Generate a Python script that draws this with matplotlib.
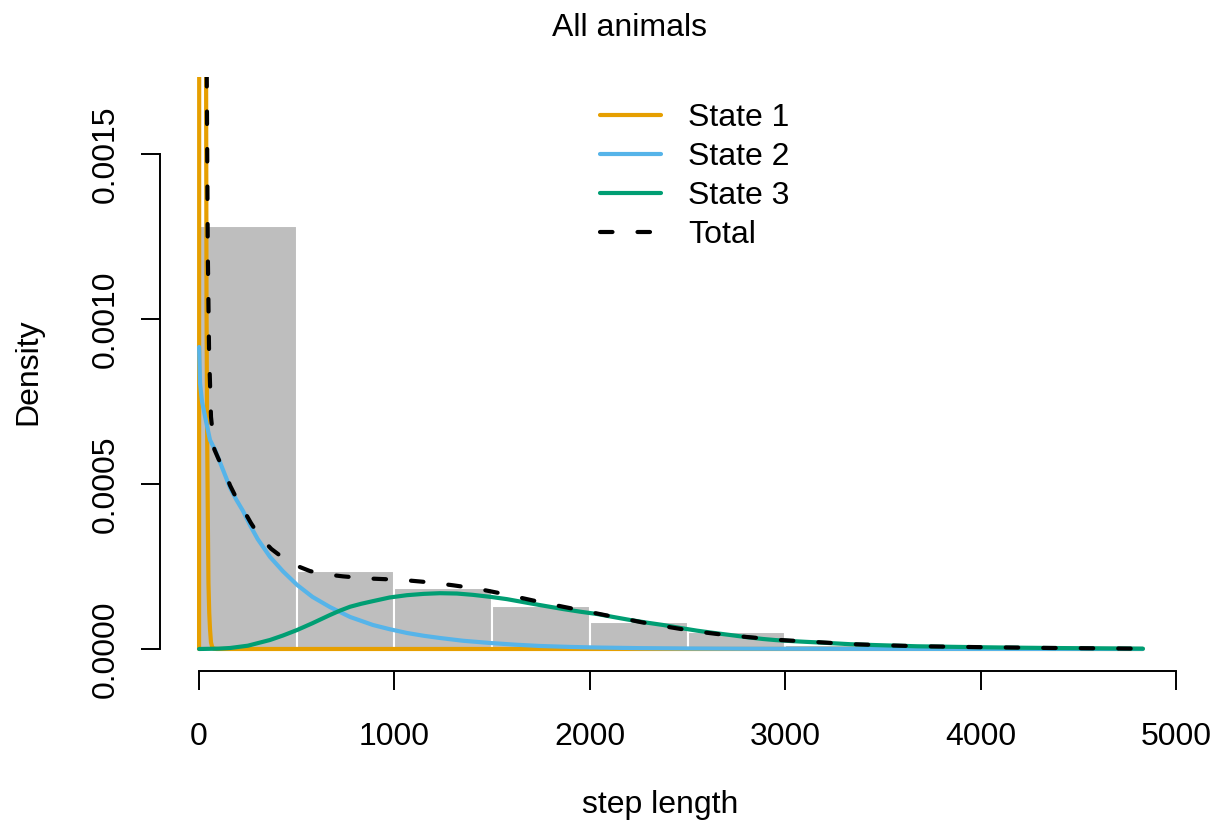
import numpy as np
import matplotlib.pyplot as plt

plt.rcParams['font.family'] = ['Liberation Sans', 'DejaVu Sans']

# histogram of step lengths (density scale)
bin_edges = [0, 500, 1000, 1500, 2000, 2500, 3000, 3500, 4000, 4500, 5000]
bin_density = [0.001282, 0.000236, 0.000186, 0.000131, 0.0000827,
               0.0000505, 0.0000115, 0.000005, 0.000002, 0.000001]

# fitted state densities
s1_x = [0, 1, 5, 15, 25, 33, 36, 38, 40, 42, 45, 48, 52, 56, 61, 67, 75, 90, 4830]
s1_y = [0.0, 0.003, 0.02, 0.035, 0.02, 0.004, 0.00174, 0.00106, 0.0008,
        0.0006, 0.00038, 0.0002, 0.00011, 0.00006, 0.00002, 0.000006,
        0.000001, 0.0, 0.0]

s2_x = [0, 5, 15, 31, 56, 82, 123, 159, 190, 225, 261, 300, 363, 430, 502,
        580, 670, 773, 890, 975, 1064, 1150, 1233, 1350, 1489, 1620, 1745,
        1900, 2050, 2250, 2500, 2800, 3200, 3800, 4830]
s2_y = [0.000915, 0.000805, 0.00075, 0.000703, 0.000633, 0.000603, 0.000542,
        0.000488, 0.000453, 0.000418, 0.000375, 0.000333, 0.000279, 0.000235,
        0.000194, 0.000158, 0.000127, 0.000097, 0.0000727, 0.000060,
        0.0000485, 0.000040, 0.0000333, 0.000025, 0.0000182, 0.000013,
        0.0000091, 0.0000062, 0.0000043, 0.0000026, 0.0000015, 0.0000008,
        0.0000004, 0.0000002, 0.0000001]

s3_x = [0, 100, 159, 250, 363, 430, 502, 580, 670, 720, 773, 830, 890, 975,
        1064, 1150, 1233, 1320, 1402, 1490, 1576, 1660, 1745, 1863, 1950,
        2037, 2120, 2206, 2290, 2375, 2460, 2549, 2630, 2718, 2800, 2886,
        2950, 3025, 3100, 3163, 3250, 3332, 3420, 3500, 3675, 3850, 4012,
        4180, 4355, 4600, 4831]
s3_y = [0.0, 0.000001, 0.000003, 0.000010, 0.0000273, 0.000041, 0.0000576,
        0.000078, 0.000103, 0.000116, 0.000128, 0.000137, 0.000145, 0.000156,
        0.000163, 0.000167, 0.000169, 0.000168, 0.000164, 0.000158, 0.000151,
        0.000142, 0.000133, 0.000121, 0.000113, 0.000106, 0.000097,
        0.0000879, 0.000080, 0.0000727, 0.000064, 0.0000555, 0.000049,
        0.0000424, 0.000036, 0.0000303, 0.000027, 0.0000242, 0.0000218,
        0.0000200, 0.0000172, 0.0000145, 0.0000126, 0.0000112, 0.0000082,
        0.0000066, 0.0000052, 0.000004, 0.000003, 0.000002, 0.000001]

tot_x = [38, 39.4, 44.5, 51, 61, 78, 100, 125, 159, 190, 225, 265, 312, 370,
         430, 500, 568, 650, 737, 815, 890, 975, 1064, 1140, 1218, 1300,
         1372, 1455, 1540, 1625, 1709, 1790, 1863, 1940, 2016, 2100, 2190,
         2265, 2344, 2420, 2497, 2575, 2651, 2735, 2820, 2900, 2973, 3100,
         3250, 3332, 3500, 3675, 4012, 4355, 4831]
tot_y = [0.0022, 0.00173, 0.001209, 0.000906, 0.000703, 0.000605, 0.000575,
         0.000545, 0.000495, 0.000458, 0.000424, 0.000382, 0.000339,
         0.000303, 0.000276, 0.000252, 0.000236, 0.000226, 0.000220,
         0.000216, 0.000213, 0.000211, 0.000208, 0.000204, 0.000199,
         0.000193, 0.000187, 0.000179, 0.000169, 0.000158, 0.000147,
         0.000137, 0.000128, 0.000119, 0.000110, 0.000100, 0.000090,
         0.000081, 0.0000727, 0.000065, 0.0000576, 0.000051, 0.0000455,
         0.000040, 0.0000355, 0.000031, 0.0000273, 0.000023, 0.0000178,
         0.0000148, 0.0000115, 0.0000084, 0.0000054, 0.0000031, 0.000001]

x_ticks = [0, 1000, 2000, 3000, 4000, 5000]
y_ticks = [0.0, 0.0005, 0.0010, 0.0015]

fs = 23
lw = 3.0

fig = plt.figure(figsize=(12.19, 8.23), dpi=100)
ax = fig.add_axes([160 / 1219, 1 - 671 / 823, 1055 / 1219, 594 / 823])

widths = np.diff(bin_edges)
ax.bar(bin_edges[:-1], bin_density, width=widths, align='edge',
       color='#BEBEBE', edgecolor='white', linewidth=1.5)

ax.plot(s1_x, s1_y, color='#E69F00', lw=lw, solid_capstyle='round',
        solid_joinstyle='round', label='State 1')
ax.plot(s2_x, s2_y, color='#56B4E9', lw=lw, solid_capstyle='round',
        solid_joinstyle='round', label='State 2')
ax.plot(s3_x, s3_y, color='#009E73', lw=lw, solid_capstyle='round',
        solid_joinstyle='round', label='State 3')
ax.plot(tot_x, tot_y, color='black', lw=lw, dashes=(3.0, 6.0),
        dash_capstyle='round', label='Total')

ax.set_xlim(-200, 5200)
ax.set_ylim(-0.0000667, 0.001733)

for side in ['top', 'right']:
    ax.spines[side].set_visible(False)
ax.spines['left'].set_bounds(0, 0.0015)
ax.spines['bottom'].set_bounds(0, 5000)
ax.spines['left'].set_linewidth(1.4)
ax.spines['bottom'].set_linewidth(1.4)

ax.set_xticks(x_ticks)
ax.set_xticklabels([str(t) for t in x_ticks])
ax.set_yticks(y_ticks)
ax.set_yticklabels(['%.4f' % t for t in y_ticks], rotation=90, va='center')
ax.tick_params(axis='both', length=14, width=1.4, labelsize=fs)
ax.tick_params(axis='x', pad=23)
ax.tick_params(axis='y', pad=14)

fig.text(630 / 1219, 1 - 28 / 823, 'All animals', ha='center', va='center', fontsize=fs)
fig.text(660 / 1219, 1 - 805 / 823, 'step length', ha='center', va='center', fontsize=fs)
fig.text(28 / 1219, 1 - 372 / 823, 'Density', ha='center', va='center',
         rotation=90, fontsize=fs)

ax.legend(loc='upper left', bbox_to_anchor=(600 / 1219, 1 - 103 / 823),
          bbox_transform=fig.transFigure, frameon=False, fontsize=fs,
          handlelength=1.9, handletextpad=0.85, labelspacing=0.28,
          borderpad=0, borderaxespad=0)

fig.savefig('out.png', dpi=100)
